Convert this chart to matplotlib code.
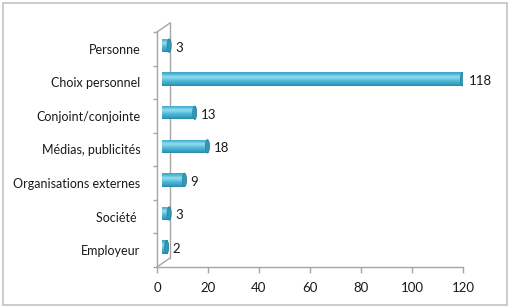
import matplotlib
matplotlib.use("Agg")
import matplotlib.pyplot as plt
import numpy as np
from matplotlib.patches import Ellipse
from matplotlib.colors import LinearSegmentedColormap

categories = ["Employeur", "Société ", "Organisations externes", "Médias, publicités",
              "Conjoint/conjointe", "Choix personnel", "Personne"]
values = [2, 3, 9, 18, 13, 118, 3]
xticks = [0, 20, 40, 60, 80, 100, 120]

plt.rcParams['font.family'] = ['Lato', 'DejaVu Sans']

W, H = 510, 308
fig = plt.figure(figsize=(W / 100, H / 100), dpi=100)
fig.patch.set_facecolor("white")

# outer border
fig.add_artist(plt.Rectangle((3 / W, 3 / H), 504 / W, 302 / H, transform=fig.transFigure,
                             fill=False, edgecolor="#c4c4c4", linewidth=1.2))

x0, x1 = 157, 463
yb, yt = 267, 32
ax = fig.add_axes([x0 / W, (H - yb) / H, (x1 - x0) / W, (yb - yt) / H])
ax.set_xlim(0, 120)
ax.set_ylim(-0.5, 6.5)
for s in ax.spines.values():
    s.set_visible(False)

pxx = 120 / (x1 - x0)          # data units per pixel in x
pxy = 7 / (yb - yt)            # data units per pixel in y
dx, dy = 13 * pxx, 9 * pxy     # 3D depth
grey = "#a6a6a6"
lk = dict(color=grey, lw=1.0, clip_on=False, zorder=1)
ax.plot([0, 0], [-0.5, 6.5], **lk)
ax.plot([dx, dx], [-0.5 + dy, 6.5 + dy], **lk)
ax.plot([0, dx], [6.5, 6.5 + dy], **lk)
ax.plot([0, dx], [-0.5, -0.5 + dy], **lk)
ax.plot([0, 120], [-0.5, -0.5], **lk)

# bars
ypos = np.arange(len(categories))
off_x, off_y = 0.35 * dx, 0.35 * dy
bh = 0.40
grad = np.linspace(0, 1, 100).reshape(-1, 1)
cmap = LinearSegmentedColormap.from_list(
    "cyl", ["#2a88a9", "#3aa4c5", "#48b3d3", "#6fcbe4", "#96dcee", "#52bbd8", "#39a4c5"])
bars = ax.barh(ypos + off_y, values, height=bh, left=off_x, color="#45b0cf",
               edgecolor="none", zorder=3)
for b, v in zip(bars, values):
    x, y = b.get_x(), b.get_y()
    w, h = b.get_width(), b.get_height()
    im = ax.imshow(grad, extent=(x, x + w, y, y + h), aspect="auto", cmap=cmap,
                   origin="lower", zorder=3.5, interpolation="bilinear")
    im.set_clip_path(b)
    cap = Ellipse((x + w, y + h / 2), 4 * pxx, h, facecolor="#3596b6",
                  edgecolor="#2a84a2", lw=0.6, zorder=4)
    ax.add_patch(cap)
    ax.text(x + w + 6 * pxx, y + h / 2 - 2 * pxy, str(v), va="center", ha="left",
            fontsize=9.5, color="#1a1a1a")

ax.set_xticks(xticks)
ax.set_xticklabels([str(t) for t in xticks], fontsize=9.5, color="#1a1a1a")
ax.tick_params(axis="x", length=4, width=1, color=grey, pad=7)
ax.set_yticks(ypos)
ax.set_yticklabels(categories, fontsize=9, color="#1a1a1a")
ax.tick_params(axis="y", length=0, pad=12)
ax.set_yticks(np.arange(-0.5, 7, 1), minor=True)
ax.tick_params(axis="y", which="minor", length=3, width=1, color=grey)
ax.set_facecolor("none")

fig.savefig("out.png", dpi=100)
